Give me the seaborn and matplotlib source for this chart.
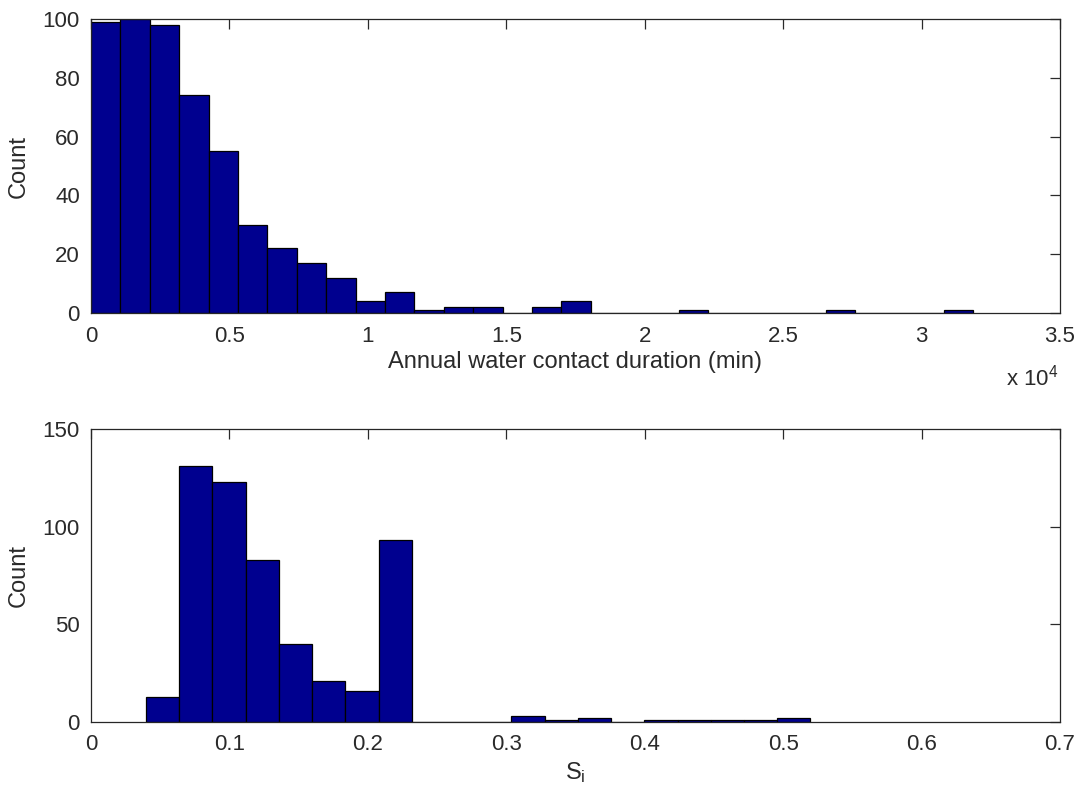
import numpy as np
import pandas as pd
import matplotlib
matplotlib.use("Agg")
import matplotlib.pyplot as plt
import seaborn as sns

# ---- data ----
duration_bin_start = 0.0          # minutes
duration_bin_width = 1062.0       # minutes
duration_counts = [99, 100, 98, 74, 55, 30, 22, 17, 12, 4,
                   7, 1, 2, 2, 0, 2, 4, 0, 0, 0,
                   1, 0, 0, 0, 0, 1, 0, 0, 0, 1]
duration_xticks = [0, 0.5, 1, 1.5, 2, 2.5, 3, 3.5]   # in units of 10^4 min
duration_yticks = [0, 20, 40, 60, 80, 100]

si_bin_start = 0.0397
si_bin_width = 0.024
si_counts = [13, 131, 123, 83, 40, 21, 16, 93, 0, 0,
             0, 3, 1, 2, 0, 1, 1, 1, 1, 2]
si_xticks = [0, 0.1, 0.2, 0.3, 0.4, 0.5, 0.6, 0.7]
si_yticks = [0, 50, 100, 150]

# ---- style ----
sns.set_theme(style="white")
plt.rcParams["font.family"] = ["Liberation Sans", "DejaVu Sans"]
plt.rcParams["mathtext.default"] = "regular"
plt.rcParams["axes.edgecolor"] = "#262626"
plt.rcParams["axes.linewidth"] = 0.9

BAR = "#00008F"
TXT = "#2a2a2a"
FS_TICK = 16
FS_LAB = 17

fig = plt.figure(figsize=(10.79, 7.94), dpi=100)
ax1 = fig.add_axes([91 / 1079, 1 - 313 / 794, 969 / 1079, 294 / 794])
ax2 = fig.add_axes([91 / 1079, 1 - 722 / 794, 969 / 1079, 293 / 794])


def draw(ax, start, width, counts):
    counts = np.asarray(counts, dtype=float)
    edges = start + width * np.arange(len(counts) + 1)
    centers = (edges[:-1] + edges[1:]) / 2
    df = pd.DataFrame({"x": centers, "w": counts})
    sns.histplot(data=df, x="x", weights="w", bins=[float(e) for e in edges],
                 ax=ax, color=BAR, edgecolor="black", linewidth=0.9, alpha=1.0)


draw(ax1, duration_bin_start, duration_bin_width, duration_counts)
draw(ax2, si_bin_start, si_bin_width, si_counts)

# top axes
ax1.set_xlim(0, 35000)
ax1.set_ylim(0, 100)
ax1.set_xticks([t * 1e4 for t in duration_xticks])
ax1.set_xticklabels([f"{t:g}" for t in duration_xticks])
ax1.set_yticks(duration_yticks)
ax1.set_xlabel("Annual water contact duration (min)", fontsize=FS_LAB, color=TXT, labelpad=3)
ax1.set_ylabel("Count", fontsize=FS_LAB, color=TXT)
fig.text(1058 / 1079, 1 - 378 / 794, "x 10$^4$", ha="right", va="center",
         fontsize=FS_TICK, color=TXT)

# bottom axes
ax2.set_xlim(0, 0.7)
ax2.set_ylim(0, 150)
ax2.set_xticks(si_xticks)
ax2.set_xticklabels([f"{t:g}" for t in si_xticks])
ax2.set_yticks(si_yticks)
ax2.set_xlabel("S$_i$", fontsize=FS_LAB, color=TXT, labelpad=3)
ax2.set_ylabel("Count", fontsize=FS_LAB, color=TXT)

for ax in (ax1, ax2):
    ax.tick_params(direction="in", length=7, width=0.9, top=True, right=True,
                   labelsize=FS_TICK, colors=TXT)
    ax.tick_params(axis="x", pad=9)
    ax.tick_params(axis="y", pad=8)
    for s in ax.spines.values():
        s.set_visible(True)
        s.set_color("#262626")
    ax.yaxis.set_label_coords(-0.063, 0.5)
    ax.grid(False)

fig.savefig("out.png", dpi=100, facecolor="white")
